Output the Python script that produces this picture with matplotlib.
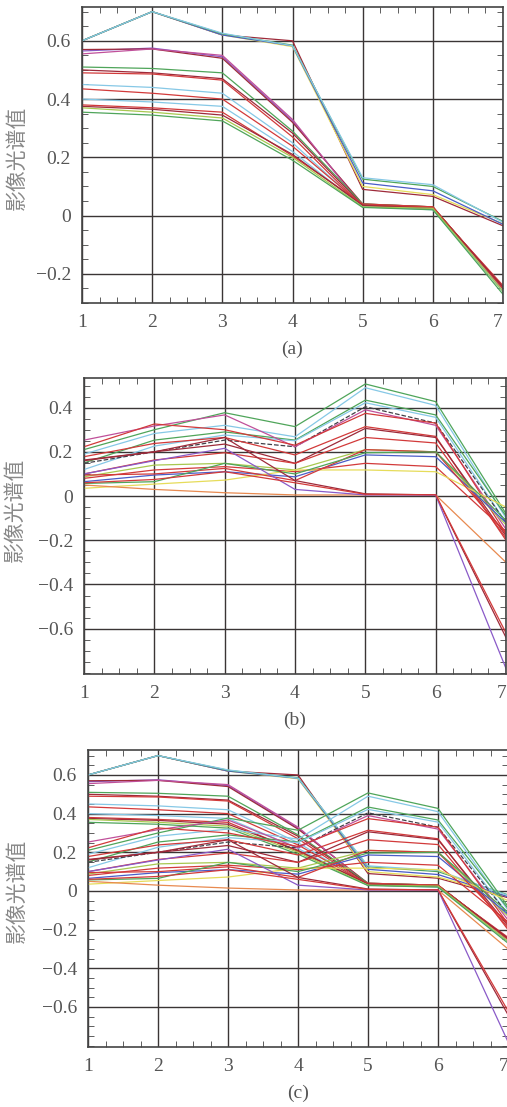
import matplotlib
matplotlib.use('Agg')
import matplotlib.pyplot as plt
from matplotlib.ticker import MultipleLocator, FuncFormatter

# band index on the x axis
bands = [1, 2, 3, 4, 5, 6, 7]

# washed-out MATLAB-ish colours of the scan
c_blue = '#4a5cc8'
c_lblue = '#86c8e6'
c_green = '#4fa55a'
c_red = '#d23a3a'
c_dred = '#9e2a3a'
c_mag = '#c0509a'
c_purp = '#8a5ac8'
c_yel = '#e6dc5a'
c_ygreen = '#a8c850'
c_dark = '#404048'
c_orange = '#e88a50'

# panel (a) spectra
a_vals = [
    [0.60, 0.70, 0.62, 0.60, 0.09, 0.066, -0.035],
    [0.60, 0.70, 0.62, 0.58, 0.10, 0.072, -0.028],
    [0.60, 0.70, 0.62, 0.583, 0.112, 0.085, -0.03],
    [0.60, 0.70, 0.624, 0.585, 0.125, 0.10, -0.02],
    [0.60, 0.70, 0.626, 0.583, 0.13, 0.106, -0.023],
    [0.565, 0.575, 0.545, 0.325, 0.035, 0.025, -0.26],
    [0.57, 0.572, 0.54, 0.32, 0.04, 0.03, -0.25],
    [0.555, 0.572, 0.55, 0.33, 0.03, 0.025, -0.255],
    [0.51, 0.505, 0.49, 0.29, 0.04, 0.03, -0.25],
    [0.50, 0.49, 0.47, 0.283, 0.035, 0.028, -0.245],
    [0.49, 0.486, 0.465, 0.27, 0.03, 0.025, -0.24],
    [0.45, 0.44, 0.42, 0.25, 0.03, 0.025, -0.26],
    [0.435, 0.42, 0.40, 0.238, 0.035, 0.03, -0.25],
    [0.40, 0.39, 0.375, 0.22, 0.03, 0.02, -0.26],
    [0.38, 0.37, 0.355, 0.205, 0.04, 0.03, -0.25],
    [0.375, 0.365, 0.345, 0.21, 0.035, 0.025, -0.245],
    [0.37, 0.355, 0.335, 0.20, 0.03, 0.025, -0.26],
    [0.355, 0.345, 0.325, 0.19, 0.028, 0.02, -0.27],
]
a_colors = [c_dred, c_yel, c_blue, c_green, c_lblue, c_purp, c_dred, c_mag,
            c_green, c_dred, c_red, c_lblue, c_red, c_lblue, c_red, c_dred,
            c_ygreen, c_green]

# panel (b) spectra
b_vals = [
    [0.21, 0.30, 0.377, 0.314, 0.507, 0.427, -0.08],
    [0.19, 0.283, 0.32, 0.268, 0.49, 0.41, -0.10],
    [0.15, 0.253, 0.29, 0.253, 0.434, 0.367, -0.09],
    [0.12, 0.226, 0.276, 0.25, 0.422, 0.356, -0.12],
    [0.148, 0.20, 0.253, 0.223, 0.404, 0.33, -0.12],
    [0.253, 0.317, 0.367, 0.223, 0.39, 0.32, -0.15],
    [0.223, 0.326, 0.30, 0.23, 0.374, 0.33, -0.17],
    [0.178, 0.238, 0.265, 0.186, 0.314, 0.27, -0.20],
    [0.163, 0.20, 0.235, 0.148, 0.306, 0.265, -0.18],
    [0.10, 0.163, 0.196, 0.148, 0.265, 0.24, -0.19],
    [0.087, 0.14, 0.148, 0.118, 0.21, 0.20, -0.13],
    [0.065, 0.095, 0.11, 0.087, 0.186, 0.178, -0.12],
    [0.08, 0.118, 0.133, 0.11, 0.148, 0.133, -0.16],
    [0.035, 0.054, 0.072, 0.118, 0.118, 0.11, -0.05],
    [0.095, 0.10, 0.125, 0.07, 0.21, 0.20, -0.17],
    [0.057, 0.065, 0.148, 0.10, 0.196, 0.20, -0.11],
    [0.05, 0.03, 0.015, 0.005, 0.005, 0.005, -0.30],
    [0.16, 0.20, 0.265, 0.07, 0.01, 0.005, -0.64],
    [0.10, 0.16, 0.216, 0.03, 0.005, 0.005, -0.78],
    [0.06, 0.075, 0.11, 0.06, 0.008, 0.006, -0.62],
]
b_colors = [c_green, c_lblue, c_green, c_lblue, c_dark, c_mag, c_red, c_red,
            c_dred, c_red, c_ygreen, c_blue, c_red, c_yel, c_red, c_green,
            c_orange, c_dred, c_purp, c_red]

b_dashed = [4]

ylabel = '影像光谱值'
grey = '#555555'


def fmt(v, pos):
    if abs(v) < 1e-9:
        return '0'
    return ('%.1f' % v).replace('-', '\u2212')


def draw_panel(ax, series, colors, dashed, ylim, yticks, tag, lab_xy):
    for i, vals in enumerate(series):
        ls = '--' if i in dashed else '-'
        ax.plot(bands, vals, color=colors[i], lw=0.9, ls=ls)
    ax.set_xlim(1, 7)
    ax.set_ylim(*ylim)
    ax.set_xticks(bands)
    ax.set_yticks(yticks)
    ax.xaxis.set_minor_locator(MultipleLocator(0.25))
    ax.yaxis.set_minor_locator(MultipleLocator(0.05))
    ax.yaxis.set_major_formatter(FuncFormatter(fmt))
    ax.grid(True, which='major', color='#3a3535', lw=1.0)
    ax.tick_params(which='both', direction='in', top=True, right=True,
                   colors='#444444', labelcolor=grey, labelsize=14)
    ax.tick_params(which='major', length=0, pad=8)
    ax.tick_params(which='minor', length=4)
    for lab in ax.get_xticklabels() + ax.get_yticklabels():
        lab.set_family('Liberation Serif')
    # the last band label sits on the figure edge; keep it inside
    ax.get_xticklabels()[-1].set_horizontalalignment('right')
    for s in ax.spines.values():
        s.set_color('#444444')
        s.set_linewidth(1.2)
    ax.set_xlabel(tag, family='Liberation Serif', fontsize=14, color=grey, labelpad=7)
    ax.set_ylabel(ylabel, family=['Noto Sans CJK SC', 'DejaVu Sans'], fontsize=15,
                  color='#888888', va='center')
    ax.yaxis.set_label_coords(*lab_xy)


W, H = 507, 1107
fig = plt.figure(figsize=(W / 100, H / 100), dpi=100)

ax_a = fig.add_axes([82 / W, 1 - 303 / H, 421 / W, 296 / H])
draw_panel(ax_a, a_vals, a_colors, [], (-0.3, 0.716), [-0.2, 0, 0.2, 0.4, 0.6], '(a)',
           (-0.154, 0.49))

ax_b = fig.add_axes([84 / W, 1 - 674 / H, 422 / W, 296 / H])
draw_panel(ax_b, b_vals, b_colors, b_dashed, (-0.805, 0.534),
           [-0.6, -0.4, -0.2, 0, 0.2, 0.4], '(b)', (-0.163, 0.554))

ax_c = fig.add_axes([88 / W, 1 - 1047 / H, 420 / W, 297 / H])
draw_panel(ax_c, a_vals + b_vals, a_colors + b_colors, [len(a_vals) + i for i in b_dashed],
           (-0.807, 0.729), [-0.6, -0.4, -0.2, 0, 0.2, 0.4, 0.6], '(c)', (-0.169, 0.525))

fig.savefig('out.png', dpi=100)
